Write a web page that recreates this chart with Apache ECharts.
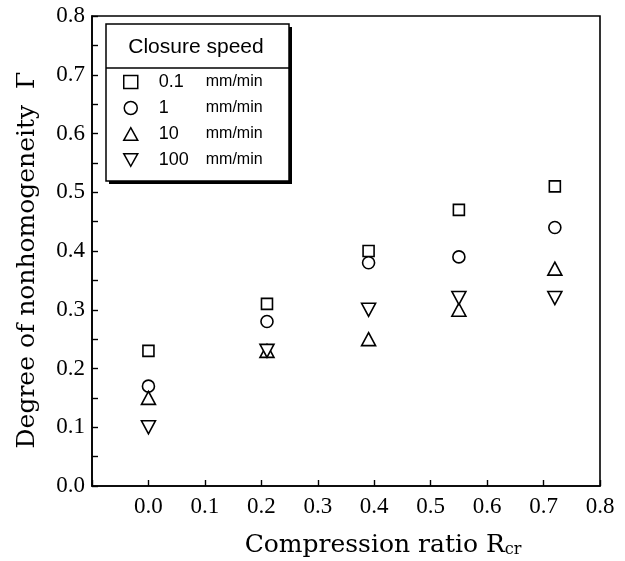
<!DOCTYPE html>
<html>
<head>
<meta charset="utf-8">
<script src="https://cdn.jsdelivr.net/npm/echarts@6/dist/echarts.min.js"></script>
<style>
  html, body { margin: 0; padding: 0; background: #fff; }
  #main { width: 625px; height: 561px; }
</style>
</head>
<body>
<div id="main"></div>
<script>
// compression ratio of each group
var ratios = [0.0, 0.21, 0.39, 0.55, 0.72]
// closure speeds (mm/min)
var speeds = ['0.1', '1', '10', '100']
// degree of nonhomogeneity per speed
var gamma01 = [0.23, 0.31, 0.40, 0.47, 0.51]
var gamma1 = [0.17, 0.28, 0.38, 0.39, 0.44]
var gamma10 = [0.15, 0.23, 0.25, 0.30, 0.37]
var gamma100 = [0.10, 0.23, 0.30, 0.32, 0.32]
var xTicks = [-0.1, 0.0, 0.1, 0.2, 0.3, 0.4, 0.5, 0.6, 0.7, 0.8]
var yTicks = [0.0, 0.1, 0.2, 0.3, 0.4, 0.5, 0.6, 0.7, 0.8]

var serif = '"Liberation Serif", "DejaVu Serif", serif'
var wideSerif = '"DejaVu Serif", "Liberation Serif", serif'
var sans = '"Liberation Sans", Arial, sans-serif'

var symbols = [
  { sym: 'rect', size: 11 },
  { sym: 'circle', size: 12 },
  { sym: 'path://M5,0 L10,9 L0,9 Z', size: [14, 13] },
  { sym: 'path://M0,0 L10,0 L5,9 Z', size: [14, 13] }
]
var values = [gamma01, gamma1, gamma10, gamma100]

function pairs(ys) {
  var out = []
  for (var i = 0; i < ratios.length; i++) out.push([ratios[i], ys[i]])
  return out
}

var chart = echarts.init(document.getElementById('main'), null, { renderer: 'canvas' })

var series = speeds.map(function (s, i) {
  return {
    name: s,
    type: 'scatter',
    symbol: symbols[i].sym,
    symbolSize: symbols[i].size,
    itemStyle: { color: '#fff', borderColor: '#000', borderWidth: 1.6, opacity: 1 },
    emphasis: { disabled: true },
    data: pairs(values[i]),
    z: 3
  }
})

var option = {
  animation: false,
  backgroundColor: '#fff',
  grid: {
    left: 92, right: 25, top: 16, bottom: 75,
    show: true, borderColor: '#000', borderWidth: 1.6
  },
  xAxis: {
    type: 'value',
    min: xTicks[0],
    max: xTicks[xTicks.length - 1],
    interval: 0.1,
    axisLine: { onZero: false, lineStyle: { color: '#000', width: 1.6 } },
    axisTick: { inside: true, length: 6, lineStyle: { color: '#000', width: 1.4 } },
    splitLine: { show: false },
    axisLabel: {
      margin: 9,
      color: '#000',
      fontFamily: serif,
      fontSize: 23,
      formatter: function (v) { return v < -0.01 ? '' : v.toFixed(1) }
    }
  },
  yAxis: {
    type: 'value',
    min: yTicks[0],
    max: yTicks[yTicks.length - 1],
    interval: 0.1,
    axisLine: { onZero: false, lineStyle: { color: '#000', width: 1.6 } },
    axisTick: { inside: true, length: 6, lineStyle: { color: '#000', width: 1.4 } },
    minorTick: { show: true, splitNumber: 2, length: 6, lineStyle: { color: '#000', width: 1.4 } },
    splitLine: { show: false },
    axisLabel: {
      margin: 7,
      color: '#000',
      fontFamily: serif,
      fontSize: 23,
      formatter: function (v) { return v.toFixed(1) }
    }
  },
  legend: {
    orient: 'vertical',
    left: 123,
    top: 72,
    padding: 0,
    itemGap: 6,
    itemWidth: 14,
    itemHeight: 13,
    z: 10,
    selectedMode: false,
    data: speeds,
    itemStyle: { color: '#fff', borderColor: '#000', borderWidth: 1.5 },
    formatter: function (name) { return '{s|}{a|' + name + '}{b|mm/min}' },
    textStyle: {
      color: '#000',
      fontFamily: sans,
      fontSize: 17,
      lineHeight: 20,
      rich: {
        s: { width: 16 },
        a: { width: 47, fontSize: 18, fontFamily: sans },
        b: { fontSize: 16, fontFamily: sans }
      }
    }
  },
  graphic: [
    {
      // box shadow
      type: 'rect',
      z: 4,
      shape: { x: 109, y: 27, width: 183, height: 157 },
      style: { fill: '#000' }
    },
    {
      type: 'rect',
      z: 5,
      shape: { x: 106, y: 24, width: 183, height: 157 },
      style: { fill: '#fff', stroke: '#000', lineWidth: 1.5 }
    },
    {
      type: 'line',
      z: 6,
      shape: { x1: 106, y1: 68, x2: 289, y2: 68 },
      style: { stroke: '#000', lineWidth: 1.5 }
    },
    {
      type: 'text',
      z: 6,
      x: 196,
      y: 47,
      style: {
        text: 'Closure speed',
        fill: '#000',
        font: '21px ' + sans,
        align: 'center',
        verticalAlign: 'middle'
      }
    },
    {
      type: 'text',
      z: 6,
      x: 383,
      y: 545,
      style: {
        text: 'Compression ratio R{sub|cr}',
        fill: '#000',
        font: '25px ' + wideSerif,
        align: 'center',
        verticalAlign: 'middle',
        rich: {
          sub: { fontSize: 16, fontFamily: wideSerif, verticalAlign: 'bottom', padding: [10, 0, 0, 0] }
        }
      }
    },
    {
      type: 'text',
      z: 6,
      x: 27,
      y: 260,
      rotation: Math.PI / 2,
      style: {
        text: 'Degree of nonhomogeneity  Γ',
        fill: '#000',
        font: '25px ' + wideSerif,
        align: 'center',
        verticalAlign: 'middle'
      }
    }
  ],
  series: series
}

chart.setOption(option)
</script>
</body>
</html>
